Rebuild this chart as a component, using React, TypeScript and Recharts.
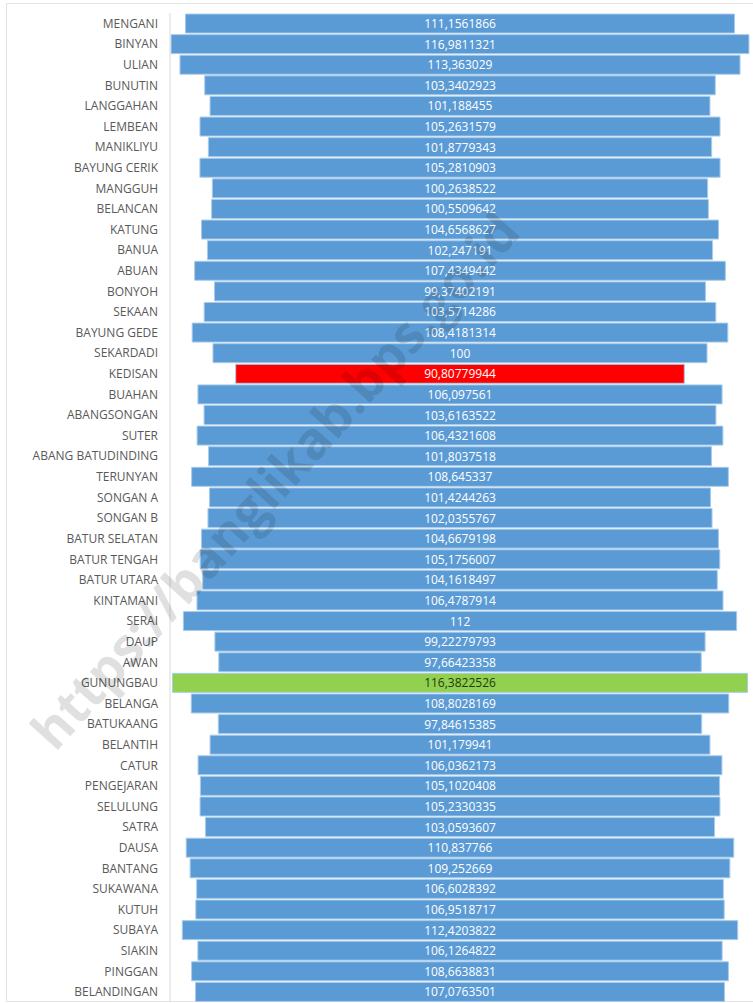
import React from "react";
import { BarChart, Bar, XAxis, YAxis, Cell, LabelList } from "recharts";

const villages: string[] = [
  "MENGANI", "BINYAN", "ULIAN", "BUNUTIN", "LANGGAHAN", "LEMBEAN", "MANIKLIYU", "BAYUNG CERIK",
  "MANGGUH", "BELANCAN", "KATUNG", "BANUA", "ABUAN", "BONYOH", "SEKAAN", "BAYUNG GEDE",
  "SEKARDADI", "KEDISAN", "BUAHAN", "ABANGSONGAN", "SUTER", "ABANG BATUDINDING", "TERUNYAN", "SONGAN A",
  "SONGAN B", "BATUR SELATAN", "BATUR TENGAH", "BATUR UTARA", "KINTAMANI", "SERAI", "DAUP", "AWAN",
  "GUNUNGBAU", "BELANGA", "BATUKAANG", "BELANTIH", "CATUR", "PENGEJARAN", "SELULUNG", "SATRA",
  "DAUSA", "BANTANG", "SUKAWANA", "KUTUH", "SUBAYA", "SIAKIN", "PINGGAN", "BELANDINGAN",
];

const values: number[] = [
  111.1561866, 116.9811321, 113.363029, 103.3402923, 101.188455, 105.2631579, 101.8779343, 105.2810903,
  100.2638522, 100.5509642, 104.6568627, 102.247191, 107.4349442, 99.37402191, 103.5714286, 108.4181314,
  100, 90.80779944, 106.097561, 103.6163522, 106.4321608, 101.8037518, 108.645337, 101.4244263,
  102.0355767, 104.6679198, 105.1756007, 104.1618497, 106.4787914, 112, 99.22279793, 97.66423358,
  116.3822526, 108.8028169, 97.84615385, 101.179941, 106.0362173, 105.1020408, 105.2330335, 103.0593607,
  110.837766, 109.252669, 106.6028392, 106.9518717, 112.4203822, 106.1264822, 108.6638831, 107.0763501,
];

const lowest = "KEDISAN";
const highest = "GUNUNGBAU";

const data = villages.map((name, i) => ({
  name,
  value: values[i],
  range: [-values[i] / 2, values[i] / 2],
  label: String(values[i]).replace(".", ","),
}));

const fillFor = (name: string) =>
  name === lowest ? "#FF0000" : name === highest ? "#92D050" : "#5B9BD5";
const textFor = (name: string) => (name === highest ? "#1E3A10" : "#FFFFFF");

const FONT = "'Open Sans', 'Noto Sans', sans-serif";

const renderLabel = (props: any) => {
  const { x, y, width, height, value } = props;
  const row = data.find((d) => d.label === value);
  const color = row ? textFor(row.name) : "#FFFFFF";
  return (
    <text
      x={Number(x) + Number(width) / 2}
      y={Number(y) + Number(height) / 2}
      textAnchor="middle"
      dominantBaseline="central"
      fill={color}
      fontSize={12}
      fontFamily={FONT}
    >
      {value}
    </text>
  );
};

const renderTick = (props: any) => {
  const { x, y, payload } = props;
  return (
    <text
      x={Number(x)}
      y={Number(y)}
      textAnchor="end"
      dominantBaseline="central"
      fill="#595959"
      fontSize={12}
      fontFamily={FONT}
    >
      {payload.value}
    </text>
  );
};

export default function App() {
  return (
    <div style={{ position: "absolute", left: 0, top: 0, width: 753, height: 1003, background: "#fff", overflow: "hidden" }}>
      <div
        style={{
          position: "absolute",
          left: 6,
          top: 3,
          width: 760,
          height: 997,
          borderTop: "1px solid #e3e3e3",
          borderLeft: "1px solid #e3e3e3",
          borderBottom: "1px solid #e3e3e3",
        }}
      />
      <BarChart
        width={753}
        height={1003}
        data={data}
        layout="vertical"
        margin={{ top: 13, right: 3, bottom: 1, left: 0 }}
        barCategoryGap="5%"
      >
        <XAxis type="number" domain={[-58.7, 58.7]} hide />
        <YAxis
          type="category"
          dataKey="name"
          width={170}
          interval={0}
          tickLine={false}
          tickSize={0}
          tickMargin={12}
          axisLine={{ stroke: "#D9D9D9" }}
          tick={renderTick}
        />
        <Bar dataKey="range" isAnimationActive={false} stroke="#A9CCEB" strokeWidth={1}>
          {data.map((d) => (
            <Cell key={d.name} fill={fillFor(d.name)} />
          ))}
          <LabelList dataKey="label" content={renderLabel} />
        </Bar>
      </BarChart>
      <div
        style={{
          position: "absolute",
          left: 274,
          top: 480,
          transform: "translate(-50%, -50%) rotate(-48deg)",
          whiteSpace: "nowrap",
          fontFamily: FONT,
          fontWeight: 700,
          fontSize: 52,
          lineHeight: "60px",
          color: "rgba(0,0,0,0.12)",
          pointerEvents: "none",
        }}
      >
        https://banglikab.bps.go.id
      </div>
    </div>
  );
}
